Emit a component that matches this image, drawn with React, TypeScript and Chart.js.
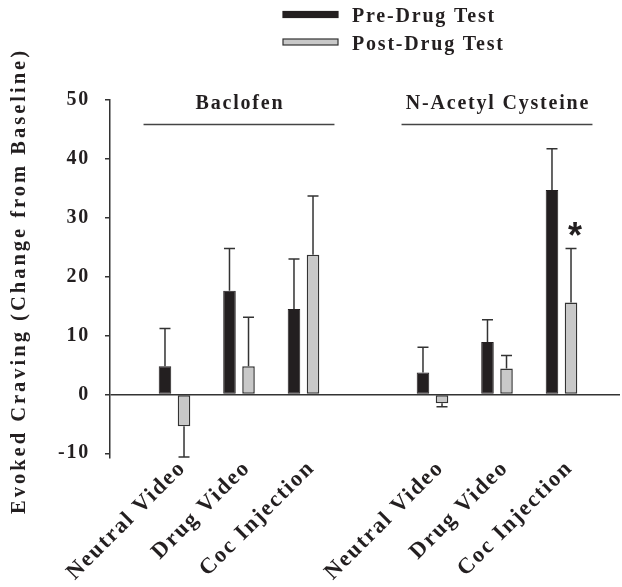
import React, { useEffect, useRef } from 'react';
import { Chart, registerables } from 'chart.js';

Chart.register(...registerables);

// ---- data ----
const treatments = ['Baclofen', 'N-Acetyl Cysteine'];
const conditions = ['Neutral Video', 'Drug Video', 'Coc Injection'];
const seriesLabels = ['Pre-Drug Test', 'Post-Drug Test'];
const yAxisTitle = 'Evoked Craving (Change from Baseline)';
const preMean = [4.8, 17.6, 14.5, 3.7, 8.9, 34.7];
const preSem = [6.4, 7.2, 8.5, 4.3, 3.8, 7.0];
const postMean = [-5.4, 4.8, 23.7, -1.5, 4.4, 15.6];
const postSem = [5.25, 8.3, 10.0, 0.6, 2.2, 9.2];
const preSignificant = [false, false, false, false, false, false];
const postSignificant = [false, false, false, false, false, true];
const yTickValues = [-10, 0, 10, 20, 30, 40, 50];

const FONT = '"Liberation Serif", "Times New Roman", serif';
const INK = '#231f20';
const LINE = '#333333';
const SPACING = '1.8px';

const slotOf = (i: number) => Math.floor(i / conditions.length) * (conditions.length + 1) + (i % conditions.length) + 1;
const slots = preMean.map((_, i) => slotOf(i));
const means = [preMean, postMean];
const sems = [preSem, postSem];
const stars = [preSignificant, postSignificant];

const setSpacing = (chart: any) => {
  try { chart.ctx.letterSpacing = SPACING; } catch (e) { /* ignore */ }
};

const spacingPlugin = {
  id: 'spacing',
  beforeUpdate: setSpacing,
  beforeLayout: setSpacing,
  beforeDraw: setSpacing,
};

const decorPlugin = {
  id: 'decor',
  afterDatasetsDraw(chart: any) {
    const { ctx, chartArea } = chart;
    const x = chart.scales.x;
    const y = chart.scales.y;
    ctx.save();
    ctx.letterSpacing = SPACING;
    // error bars + significance
    chart.data.datasets.forEach((ds: any, di: number) => {
      const meta = chart.getDatasetMeta(di);
      meta.data.forEach((bar: any, i: number) => {
        const m = means[di][i];
        const e = sems[di][i];
        const end = m >= 0 ? m + e : m - e;
        const y0 = y.getPixelForValue(m);
        const y1 = y.getPixelForValue(end);
        ctx.strokeStyle = LINE;
        ctx.lineWidth = 1.5;
        ctx.beginPath();
        ctx.moveTo(bar.x, y0);
        ctx.lineTo(bar.x, y1);
        ctx.moveTo(bar.x - 5.5, y1);
        ctx.lineTo(bar.x + 5.5, y1);
        ctx.stroke();
        if (stars[di][i]) {
          ctx.fillStyle = INK;
          ctx.font = 'bold 36px "Liberation Sans", Arial, sans-serif';
          ctx.textAlign = 'center';
          ctx.textBaseline = 'alphabetic';
          ctx.letterSpacing = '0px';
          ctx.fillText('*', bar.x + 4, y1);
          ctx.letterSpacing = SPACING;
        }
      });
    });
    // treatment group labels
    treatments.forEach((t, ti) => {
      const center = ti * (conditions.length + 1) + (conditions.length + 1) / 2;
      const cx = x.getPixelForValue(center);
      const x0 = x.getPixelForValue(center - 1.48);
      const x1 = x.getPixelForValue(center + 1.48);
      ctx.fillStyle = INK;
      ctx.font = `bold 20px ${FONT}`;
      ctx.textAlign = 'center';
      ctx.textBaseline = 'alphabetic';
      ctx.fillText(t, cx + 1, chartArea.top + 9);
      ctx.strokeStyle = '#444';
      ctx.lineWidth = 1.5;
      ctx.beginPath();
      ctx.moveTo(x0, chartArea.top + 24.5);
      ctx.lineTo(x1, chartArea.top + 24.5);
      ctx.stroke();
    });
    // legend
    chart.data.datasets.forEach((ds: any, di: number) => {
      const top = 11.5 + di * 27.5;
      ctx.fillStyle = ds.backgroundColor;
      ctx.fillRect(283, top, 55, 6);
      ctx.strokeStyle = ds.borderColor;
      ctx.lineWidth = 1.2;
      ctx.strokeRect(283, top, 55, 6);
      ctx.fillStyle = INK;
      ctx.font = `bold 20px ${FONT}`;
      ctx.textAlign = 'left';
      ctx.textBaseline = 'alphabetic';
      ctx.fillText(ds.label, 352, top + 10.5);
    });
    // y axis title
    ctx.save();
    ctx.translate(20, (chartArea.top + chartArea.bottom) / 2 + 2);
    ctx.rotate(-Math.PI / 2);
    ctx.fillStyle = INK;
    ctx.font = `bold 20.5px ${FONT}`;
    ctx.letterSpacing = '3px';
    ctx.textAlign = 'center';
    ctx.textBaseline = 'middle';
    ctx.fillText(yAxisTitle, 0, 0);
    ctx.restore();
    ctx.restore();
  },
};

export default function App() {
  const ref = useRef<HTMLCanvasElement | null>(null);
  useEffect(() => {
    document.body.style.margin = '0';
    const canvas = ref.current;
    if (!canvas) return;
    const chart = new Chart(canvas, {
      type: 'bar',
      data: {
        datasets: [
          {
            label: seriesLabels[0],
            data: preMean.map((v, i) => ({ x: slots[i], y: v })),
            backgroundColor: INK,
            borderColor: INK,
            borderWidth: 1,
            borderSkipped: false,
          },
          {
            label: seriesLabels[1],
            data: postMean.map((v, i) => ({ x: slots[i], y: v })),
            backgroundColor: '#c8c8c8',
            borderColor: LINE,
            borderWidth: 1.5,
            borderSkipped: false,
          },
        ],
      },
      options: {
        animation: false,
        responsive: false,
        devicePixelRatio: 1,
        categoryPercentage: 0.59,
        barPercentage: 0.66,
        layout: { padding: { top: 100, right: 2, left: 0, bottom: 0 } },
        plugins: {
          legend: { display: false },
          tooltip: { enabled: false },
        },
        scales: {
          x: {
            type: 'linear',
            min: 0,
            max: 7.907,
            offset: false,
            grid: { display: false, drawTicks: false, offset: false },
            border: { display: false },
            afterBuildTicks: (scale: any) => {
              scale.ticks = slots.map((v) => ({ value: v }));
            },
            afterFit: (scale: any) => {
              scale.height = 129;
            },
            ticks: {
              autoSkip: false,
              minRotation: 45,
              maxRotation: 45,
              padding: -3,
              labelOffset: 8,
              color: INK,
              font: { family: FONT, size: 22.5, weight: 'bold' },
              callback: (value: any) => conditions[(Number(value) - 1) % (conditions.length + 1)] ?? '',
            },
          },
          y: {
            type: 'linear',
            min: -10.8,
            max: 50,
            afterBuildTicks: (scale: any) => {
              scale.ticks = yTickValues.map((v) => ({ value: v }));
            },
            afterFit: (scale: any) => {
              scale.width = 110;
            },
            grid: {
              color: (c: any) => (c.tick && c.tick.value === 0 ? LINE : 'rgba(0,0,0,0)'),
              lineWidth: 1.5,
              drawTicks: true,
              tickLength: 5,
              tickColor: LINE,
              tickWidth: 1.5,
            },
            border: { display: true, color: LINE, width: 1.5 },
            ticks: {
              padding: 15,
              color: INK,
              font: { family: FONT, size: 20, weight: 'bold' },
            },
            title: { display: false },
          },
        },
      },
      plugins: [spacingPlugin, decorPlugin],
    } as any);
    return () => chart.destroy();
  }, []);
  return <canvas ref={ref} width={622} height={587} style={{ display: 'block' }} />;
}
